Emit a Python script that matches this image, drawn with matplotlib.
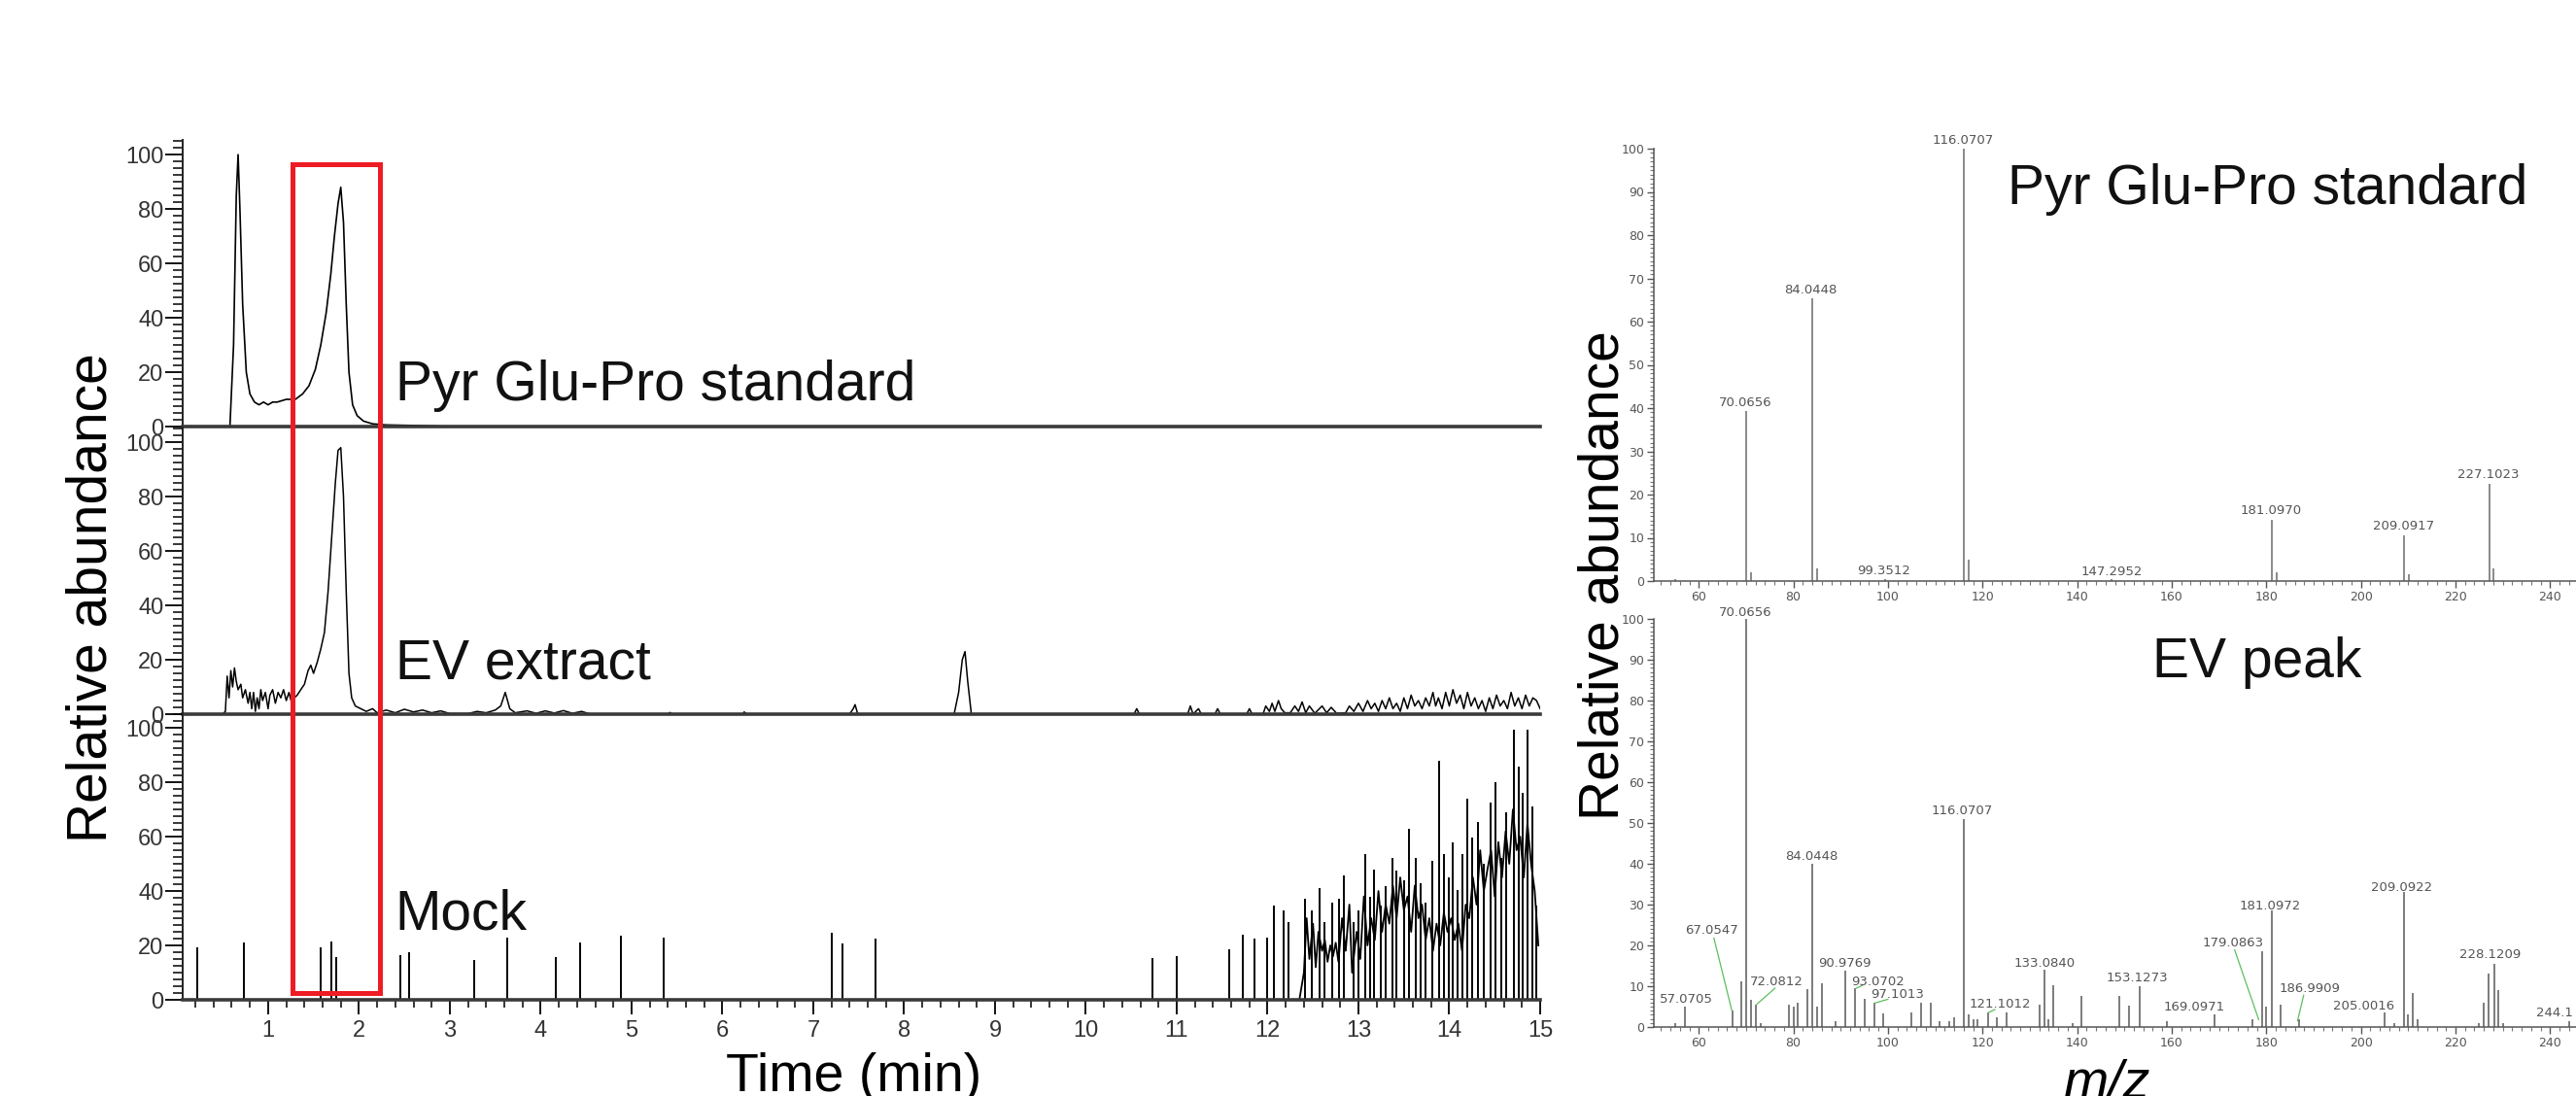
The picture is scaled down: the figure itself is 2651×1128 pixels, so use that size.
import matplotlib.pyplot as plt
from matplotlib.patches import Rectangle
from matplotlib.ticker import MultipleLocator

plt.rcParams['font.family'] = ['Liberation Sans', 'DejaVu Sans']

# ---------------- chromatograms: (time min, relative abundance) ----------------
std_trace = [(0.06, 0), (0.58, 0), (0.62, 30), (0.65, 85), (0.67, 100), (0.69, 80),
             (0.72, 45), (0.76, 20), (0.80, 12), (0.85, 9), (0.90, 8), (0.95, 9),
             (1.00, 8), (1.05, 9), (1.10, 9), (1.20, 10), (1.30, 10), (1.38, 12),
             (1.45, 15), (1.52, 21), (1.58, 30), (1.64, 42), (1.69, 56), (1.73, 70),
             (1.77, 82), (1.80, 88), (1.83, 75), (1.86, 45), (1.89, 20), (1.93, 8),
             (1.98, 4), (2.05, 2), (2.15, 1), (2.3, 0.6), (2.6, 0.4), (3.0, 0), (15.0, 0)]

ev_trace = [(0.06, 0), (0.50, 0), (0.53, 1), (0.55, 14), (0.57, 6), (0.59, 16), (0.61, 10),
            (0.63, 17), (0.65, 12), (0.67, 9), (0.70, 11), (0.72, 6), (0.75, 9), (0.78, 4),
            (0.80, 8), (0.82, 2), (0.84, 8), (0.86, 1), (0.88, 6), (0.90, 2), (0.92, 9),
            (0.94, 5), (0.97, 8), (1.00, 2), (1.02, 7), (1.05, 9), (1.08, 4), (1.11, 8),
            (1.14, 6), (1.17, 9), (1.20, 5), (1.23, 8), (1.26, 4), (1.29, 6), (1.32, 7),
            (1.36, 9), (1.40, 11), (1.44, 16), (1.47, 18), (1.50, 15), (1.54, 19), (1.58, 24),
            (1.62, 30), (1.66, 45), (1.70, 65), (1.74, 85), (1.77, 97), (1.80, 98), (1.83, 80),
            (1.86, 45), (1.89, 15), (1.92, 6), (1.96, 3), (2.02, 2), (2.08, 1), (2.15, 2),
            (2.2, 0.5), (2.3, 1.5), (2.4, 0.5), (2.5, 1.8), (2.6, 0.8), (2.7, 1.5), (2.8, 0.5),
            (2.9, 1.2), (3.0, 0.2), (3.2, 0.2), (3.3, 1), (3.4, 0.5), (3.5, 1.5), (3.56, 3),
            (3.61, 8), (3.66, 2), (3.72, 0.5), (3.85, 1.2), (3.95, 0.3), (4.05, 1.2), (4.15, 0.4),
            (4.25, 1.3), (4.35, 0.3), (4.45, 1), (4.55, 0), (5.40, 0), (5.42, 0.6), (5.45, 0),
            (6.22, 0), (6.24, 0.8), (6.27, 0), (7.40, 0), (7.44, 2), (7.46, 3.5), (7.49, 0),
            (8.55, 0), (8.60, 8), (8.64, 20), (8.67, 23), (8.70, 12), (8.74, 0), (10.53, 0),
            (10.56, 2), (10.59, 0), (11.12, 0), (11.15, 3), (11.18, 0), (11.24, 2), (11.27, 0),
            (11.42, 0), (11.45, 2), (11.48, 0), (11.77, 0), (11.80, 2), (11.83, 0), (11.95, 0),
            (11.98, 3), (12.02, 1), (12.05, 4), (12.08, 1), (12.12, 5), (12.15, 2), (12.19, 0.5),
            (12.25, 0.5), (12.30, 3), (12.34, 1), (12.38, 4.5), (12.42, 0.5), (12.46, 3),
            (12.52, 0.3), (12.60, 3), (12.65, 0.5), (12.70, 2.5), (12.76, 0.3), (12.86, 0.5),
            (12.90, 3), (12.95, 1), (13.0, 4), (13.05, 1), (13.10, 5), (13.14, 2), (13.18, 4),
            (13.22, 1), (13.26, 5), (13.30, 2), (13.34, 6), (13.38, 2), (13.42, 4), (13.46, 1),
            (13.50, 6), (13.54, 2), (13.58, 7), (13.62, 3), (13.66, 5), (13.70, 2), (13.74, 6),
            (13.78, 3), (13.82, 8), (13.85, 3), (13.88, 6), (13.92, 2), (13.96, 8), (14.0, 3),
            (14.04, 9), (14.08, 4), (14.12, 7), (14.16, 2), (14.2, 8), (14.24, 3), (14.28, 6),
            (14.32, 2), (14.36, 5), (14.40, 1), (14.44, 6), (14.48, 2), (14.52, 7), (14.56, 3),
            (14.60, 5), (14.64, 2), (14.68, 8), (14.72, 3), (14.76, 6), (14.80, 2), (14.84, 7),
            (14.88, 3), (14.92, 6), (14.96, 5), (15.0, 2)]

mock_time = [0.22, 0.73, 1.58, 1.70, 1.75, 2.46, 2.55, 3.27, 3.63, 4.17,
             4.43, 4.88, 5.35, 7.20, 7.32, 7.68, 10.73, 11.0, 11.58, 11.73,
             11.86, 12.0, 12.07, 12.18, 12.23, 12.41, 12.49, 12.57, 12.63, 12.71,
             12.79, 12.84, 12.95, 13.0, 13.08, 13.13, 13.17, 13.25, 13.30, 13.37,
             13.42, 13.5, 13.56, 13.63, 13.68, 13.74, 13.81, 13.89, 13.94, 13.99,
             14.04, 14.09, 14.14, 14.2, 14.25, 14.32, 14.38, 14.45, 14.51, 14.57,
             14.63, 14.71, 14.76, 14.81, 14.86, 14.91, 14.96]
mock_int = [19.4, 21, 19.4, 21.4, 15.8, 16.4, 17.6, 14.6, 23, 15.8,
            21, 23.6, 23, 24.8, 20.6, 22.4, 15.5, 16, 18.5, 23.8,
            22.6, 23, 34.5, 32.7, 28.6, 37, 33, 41, 28.6, 35.7,
            37, 45.8, 28.6, 33, 53.6, 38, 48, 34.5, 41.7, 52,
            47.6, 44, 63, 52, 43, 35.7, 51, 88, 53.6, 45,
            58, 40.5, 53.6, 74, 59.5, 65.5, 50, 72.6, 80, 52,
            69, 99.4, 85.7, 76, 99.4, 71, 34.5]

# dense noisy part of the mock trace
mock_dense = [(12.35, 0), (12.40, 10), (12.43, 30), (12.46, 15), (12.50, 28), (12.53, 12),
              (12.56, 25), (12.60, 18), (12.63, 22), (12.66, 14), (12.69, 20), (12.72, 16),
              (12.75, 21), (12.78, 14), (12.82, 30), (12.86, 18), (12.90, 35), (12.93, 10),
              (12.98, 25), (13.02, 15), (13.06, 38), (13.10, 20), (13.14, 30), (13.18, 22),
              (13.22, 40), (13.26, 25), (13.30, 35), (13.34, 28), (13.38, 42), (13.42, 30),
              (13.46, 45), (13.50, 33), (13.54, 38), (13.58, 25), (13.62, 42), (13.66, 30),
              (13.70, 35), (13.74, 22), (13.78, 30), (13.82, 18), (13.86, 28), (13.90, 20),
              (13.94, 32), (13.98, 25), (14.02, 30), (14.06, 22), (14.10, 28), (14.14, 18),
              (14.18, 35), (14.22, 30), (14.26, 45), (14.30, 35), (14.34, 55), (14.38, 40),
              (14.42, 48), (14.46, 55), (14.50, 38), (14.54, 58), (14.58, 45), (14.62, 62),
              (14.66, 50), (14.70, 70), (14.74, 55), (14.78, 60), (14.82, 45), (14.86, 65),
              (14.90, 50), (14.94, 40), (14.98, 20)]

trace_names = ['Pyr Glu-Pro standard', 'EV extract', 'Mock']

# ---------------- MS2 spectra: m/z, relative abundance ----------------
std_mz = [55.0, 70.07, 71.07, 84.04, 85.05, 99.35, 116.07, 117.07, 147.30,
          181.10, 182.10, 209.09, 210.10, 227.10, 228.11]
std_ab = [0.5, 39.3, 2.0, 65.5, 3.0, 0.5, 100, 5.0, 0.4,
          14.2, 2.0, 10.5, 1.5, 22.5, 3.0]
std_labels = ['70.0656', '84.0448', '99.3512', '116.0707', '147.2952',
              '181.0970', '209.0917', '227.1023']

ev_mz = [55.0, 57.07, 67.05, 69.0, 70.07, 71.0, 72.08, 73.0, 79.0, 80.0,
         81.0, 83.0, 84.04, 85.0, 86.0, 89.0, 90.98, 93.07, 95.0, 97.10,
         99.0, 105.0, 107.0, 109.0, 111.0, 113.0, 114.0, 116.07, 117.0, 118.0,
         119.0, 121.10, 123.0, 125.0, 132.0, 133.08, 134.0, 135.0, 139.0, 141.0,
         149.0, 151.0, 153.13, 159.0, 169.10, 177.0, 179.09, 180.0, 181.10, 183.0,
         186.99, 205.0, 207.0, 209.09, 210.0, 211.0, 212.0, 225.0, 226.0, 227.0,
         228.12, 229.0, 230.0, 244.1]
ev_ab = [1.0, 5.1, 4.0, 11.3, 100, 6.6, 5.5, 1.0, 5.5, 5.0,
         5.9, 9.4, 40.0, 5.0, 10.7, 1.5, 13.8, 9.5, 7.0, 5.9,
         3.3, 3.5, 6.0, 5.9, 1.5, 1.5, 2.5, 51.0, 3.0, 2.0,
         2.0, 3.5, 2.5, 3.5, 5.5, 14.0, 2.0, 10.3, 1.0, 7.6,
         7.6, 5.2, 10.0, 1.5, 3.2, 2.0, 18.5, 5.0, 28.5, 5.5,
         2.0, 3.5, 1.0, 33.0, 3.0, 8.3, 2.0, 1.0, 6.0, 13.0,
         15.5, 9.0, 1.0, 1.5]
ev_labels = ['57.0705', '67.0547', '70.0656', '72.0812', '84.0448', '90.9769',
             '93.0702', '97.1013', '116.0707', '121.1012', '133.0840', '153.1273',
             '169.0971', '179.0863', '181.0972', '186.9909', '205.0016', '209.0922',
             '228.1209', '244.1']

# ---------------- layout (pixels of the 2651 x 1128 picture) ----------------
W, H = 2651, 1128
std_lab_pos = [(69.9, 41.2), (83.7, 67.4), (99.1, 2.4), (115.9, 102.0), (147.3, 2.2),
               (181.0, 16.3), (209.0, 12.7), (226.9, 24.7)]
ev_lab_pos = [(57.4, 6.8), (62.8, 23.6), (69.9, 101.6), (76.5, 11.0), (83.8, 41.9),
              (90.9, 15.6), (97.8, 11.0), (102.0, 8.0), (115.6, 53.0), (123.8, 5.7),
              (133.1, 15.6), (152.6, 12.0), (164.8, 5.0), (173.0, 20.5), (180.7, 29.7),
              (189.1, 9.4), (200.5, 5.1), (208.7, 34.1), (227.4, 17.7), (241.0, 3.4)]
ev_leaders = [(63.2, 21.8, 67.0, 4.0), (76.1, 9.5, 72.3, 5.6), (94.6, 10.2, 93.3, 9.5),
              (100.0, 6.8, 97.3, 5.9), (122.6, 4.3, 121.2, 3.5), (173.3, 18.9, 178.4, 1.8),
              (187.9, 7.8, 186.6, 1.5)]

fig = plt.figure(figsize=(W / 100, H / 100), dpi=100)
txt_col = '#333333'
small_font = ['DejaVu Sans']


def box(left, bottom, width, height):
    # left/bottom measured in pixels from the top-left corner
    return [left / W, (H - bottom) / H, width / W, height / H]


# left: three stacked chromatograms
bottoms = [439, 735, 1029]
chrom_axes = [fig.add_axes(box(188, b, 1397, 295)) for b in bottoms]
for k, ax in enumerate(chrom_axes):
    ax.set_xlim(0.06, 15.0)
    ax.set_ylim(0, 105.4)
    for s in ['top', 'right']:
        ax.spines[s].set_visible(False)
    ax.spines['left'].set_linewidth(1.4)
    ax.spines['left'].set_color('#222222')
    ax.spines['bottom'].set_linewidth(2.6)
    ax.spines['bottom'].set_color('#3a3a3a')
    ax.set_yticks(range(0, 101, 20))
    ax.yaxis.set_minor_locator(MultipleLocator(2.5))
    ax.tick_params(axis='y', which='major', length=13, width=1.3, labelsize=17,
                   labelcolor=txt_col, pad=1)
    ax.tick_params(axis='y', which='minor', length=7, width=1.1)
    ax.patch.set_visible(False)
    if k < 2:
        ax.tick_params(axis='x', which='both', bottom=False, labelbottom=False)
    else:
        ax.set_xticks(range(1, 16))
        ax.xaxis.set_minor_locator(MultipleLocator(0.2))
        ax.tick_params(axis='x', which='major', length=11, width=1.3, labelsize=17,
                       labelcolor=txt_col, pad=4)
        ax.tick_params(axis='x', which='minor', length=6, width=1.1)

t, v = zip(*std_trace)
chrom_axes[0].plot(t, v, color='black', lw=1.2)
t, v = zip(*ev_trace)
chrom_axes[1].plot(t, v, color='black', lw=1.1)
chrom_axes[2].vlines(mock_time, 0, mock_int, color='black', lw=1.4)
t, v = zip(*mock_dense)
chrom_axes[2].plot(t, v, color='black', lw=1.3)

name_y = [9.6, 13.0, 26.0]
for ax, name, y in zip(chrom_axes, trace_names, name_y):
    ax.text(2.40, y, name, fontsize=41, va='baseline', ha='left', color='#111111')

# red highlight box across the three traces
inv = fig.transFigure.inverted()
x0, y0 = inv.transform(chrom_axes[2].transData.transform((1.27, 2.5)))
x1, y1 = inv.transform(chrom_axes[0].transData.transform((2.23, 96.5)))
fig.add_artist(Rectangle((x0, y0), x1 - x0, y1 - y0, transform=fig.transFigure,
                         fill=False, edgecolor='#ee1c24', lw=3.6, zorder=10))

fig.text(95 / W, 1 - 615 / H, 'Relative abundance', rotation=90, ha='center',
         va='center', fontsize=41)
fig.text(879 / W, 1 - 1123 / H, 'Time (min)', ha='center', va='baseline', fontsize=40)

# right: two spectra
ax_s = fig.add_axes(box(1702, 598, 971, 445))
ax_e = fig.add_axes(box(1702, 1057, 971, 420))
for ax in [ax_s, ax_e]:
    ax.set_xlim(50.5, 250)
    ax.set_ylim(0, 100)
    for s in ['top', 'right']:
        ax.spines[s].set_visible(False)
    for s in ['left', 'bottom']:
        ax.spines[s].set_linewidth(1.1)
        ax.spines[s].set_color('#555555')
    ax.set_xticks(range(60, 241, 20))
    ax.set_yticks(range(0, 101, 10))
    ax.xaxis.set_minor_locator(MultipleLocator(2))
    ax.yaxis.set_minor_locator(MultipleLocator(1))
    ax.tick_params(which='major', length=5, width=1.0, color='#555555', labelsize=9,
                   labelcolor='#555555', pad=2)
    ax.tick_params(which='minor', length=3, width=0.8, color='#777777')
    for lab in ax.get_xticklabels() + ax.get_yticklabels():
        lab.set_family(small_font)
    ax.patch.set_visible(False)

ax_s.vlines(std_mz, 0, std_ab, color='#777777', lw=1.2)
for lab, (x, y) in zip(std_labels, std_lab_pos):
    ax_s.text(x, y, lab, fontsize=9.5, ha='center', va='center', color='#555555',
              family=small_font, clip_on=False)
ax_s.text(125.3, 87.2, 'Pyr Glu-Pro standard', fontsize=41, ha='left', va='baseline',
          color='#111111')

ax_e.vlines(ev_mz, 0, ev_ab, color='#666666', lw=1.2)
for lab, (x, y) in zip(ev_labels, ev_lab_pos):
    ax_e.text(x, y, lab, fontsize=9.5, ha='center', va='center', color='#555555',
              family=small_font, clip_on=False)
for xa, ya, xb, yb in ev_leaders:
    ax_e.plot([xa, xb], [ya, yb], color='#5cbf5c', lw=0.9)
ax_e.text(156.0, 85.7, 'EV peak', fontsize=41, ha='left', va='baseline', color='#111111')

fig.text(1650 / W, 1 - 592 / H, 'Relative abundance', rotation=90, ha='center',
         va='center', fontsize=41)
fig.text(2168 / W, 1 - 1130 / H, 'm/z', ha='center', va='baseline', fontsize=40,
         style='italic')

fig.savefig('out.png', dpi=100)
